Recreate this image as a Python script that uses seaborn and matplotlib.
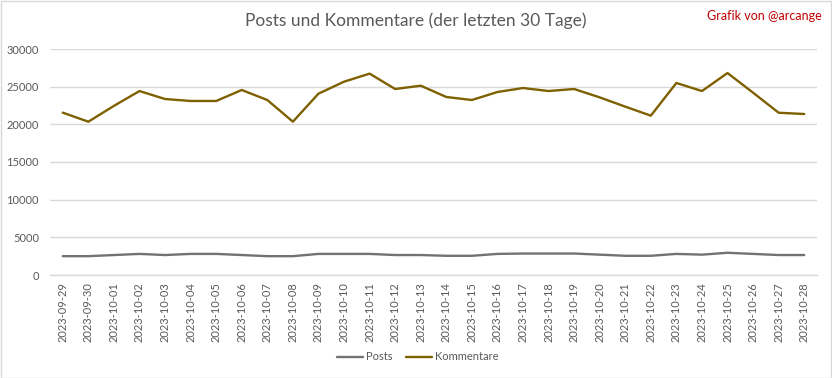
import matplotlib
matplotlib.use("Agg")
import matplotlib.pyplot as plt
import seaborn as sns
import pandas as pd
from matplotlib.patches import Rectangle

dates = ["2023-09-29", "2023-09-30"] + [f"2023-10-{d:02d}" for d in range(1, 29)]
posts = [2500, 2500, 2650, 2800, 2650, 2800, 2800, 2650, 2500, 2500,
         2800, 2800, 2800, 2650, 2650, 2550, 2550, 2800, 2850, 2850,
         2850, 2700, 2550, 2550, 2800, 2700, 2950, 2800, 2650, 2650]
kommentare = [21550, 20350, 22450, 24420, 23360, 23100, 23100, 24560, 23230, 20350,
              24070, 25660, 26730, 24690, 25130, 23630, 23230, 24290, 24820, 24420,
              24690, 23580, 22350, 21150, 25490, 24420, 26810, 24200, 21540, 21370]
series_names = ["Posts", "Kommentare"]
colors = ["#767171", "#7F6000"]
y_ticks = [0, 5000, 10000, 15000, 20000, 25000, 30000]

df = pd.DataFrame({
    "Datum": dates * 2,
    "Wert": posts + kommentare,
    "Serie": [series_names[0]] * len(dates) + [series_names[1]] * len(dates),
})

sns.set_theme(style="white")
plt.rcParams["font.family"] = ["Lato", "DejaVu Sans"]

W, H = 832, 378
fig = plt.figure(figsize=(W / 100, H / 100), dpi=100)
ax = fig.add_axes([50 / W, 1 - 275 / H, (817 - 50) / W, (275 - 49) / H])

sns.lineplot(data=df, x="Datum", y="Wert", hue="Serie", hue_order=series_names,
             palette=colors, linewidth=1.7, ax=ax, legend=False, sort=False)

ax.set_xlim(-0.5, len(dates) - 0.5)
ax.set_ylim(0, 30000)
ax.set_yticks(y_ticks)
ax.set_yticklabels([str(v) for v in y_ticks])
ax.set_xticks(range(len(dates)))
ax.set_xticklabels(dates, rotation=90)
ax.tick_params(axis="x", labelsize=8, colors="#595959", length=0, pad=5)
ax.tick_params(axis="y", labelsize=8, colors="#595959", length=0, pad=8)
ax.set_xlabel("")
ax.set_ylabel("")
ax.grid(axis="y", color="#d9d9d9", linewidth=1.0)
ax.set_axisbelow(True)
for s in ["top", "left", "right"]:
    ax.spines[s].set_visible(False)
ax.spines["bottom"].set_color("#d9d9d9")
ax.spines["bottom"].set_linewidth(1.0)

fig.text(416 / W, 1 - 21 / H, "Posts und Kommentare (der letzten 30 Tage)",
         ha="center", va="center", fontsize=12.5, color="#595959")
fig.text(822 / W, 1 - 16 / H, "Grafik von @arcange", ha="right", va="center",
         fontsize=9, color="#C00000")

handles = [plt.Line2D([], [], color=c, lw=1.7) for c in colors]
fig.legend(handles, series_names, loc="center", bbox_to_anchor=(418 / W, 1 - 357 / H),
           ncol=2, frameon=False, fontsize=8, handlelength=2.3, handletextpad=0.3,
           columnspacing=1.2, labelcolor="#595959")

fig.patches.append(Rectangle((0.5 / W, 0.5 / H), 1 - 1.5 / W, 1 - 1.5 / H,
                             transform=fig.transFigure, fill=False,
                             edgecolor="#d9d9d9", linewidth=1.0))

fig.savefig("out.png", dpi=100, facecolor="white")
